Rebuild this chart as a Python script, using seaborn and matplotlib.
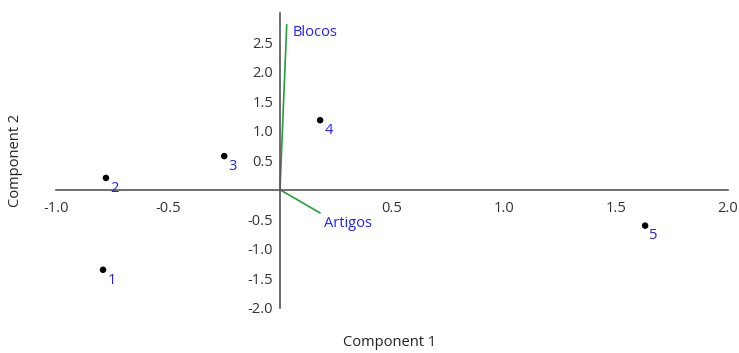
import matplotlib
matplotlib.use("Agg")
import matplotlib.pyplot as plt
import seaborn as sns
import pandas as pd

# data
obs_labels = ["1", "2", "3", "4", "5"]
comp1 = [-0.79, -0.777, -0.249, 0.179, 1.63]
comp2 = [-1.36, 0.20, 0.57, 1.18, -0.61]
var_names = ["Blocos", "Artigos"]
load1 = [0.03, 0.179]
load2 = [2.80, -0.395]
xticks = [-1.0, -0.5, 0.5, 1.0, 1.5, 2.0]
yticks = [-2.0, -1.5, -1.0, -0.5, 0.5, 1.0, 1.5, 2.0, 2.5]

sns.set_style("white")
plt.rcParams['font.family'] = ['Open Sans', 'DejaVu Sans']

fig = plt.figure(figsize=(7.39, 3.53), dpi=100)
ax = fig.add_axes([56/739, 1-307.5/353, 672/739, (307.5-13)/353])

df = pd.DataFrame({"c1": comp1, "c2": comp2, "lab": obs_labels})
sns.scatterplot(data=df, x="c1", y="c2", ax=ax, color="black", s=22,
                edgecolor="none", zorder=3)
for x, y, t in zip(comp1, comp2, obs_labels):
    ax.annotate(t, (x, y), xytext=(3, -2), textcoords="offset points",
                ha="left", va="top", color="#2020ff", fontsize=10.5)

for name, lx, ly in zip(var_names, load1, load2):
    sns.lineplot(x=[0, lx], y=[0, ly], ax=ax, color="#22a03c", lw=1.2,
                 sort=False, estimator=None)
blocos_off = (4, 0)
artigos_off = (3, -2)
ax.annotate(var_names[0], (load1[0], load2[0]), xytext=blocos_off,
            textcoords="offset points", ha="left", va="top",
            color="#2020ff", fontsize=10.5)
ax.annotate(var_names[1], (load1[1], load2[1]), xytext=artigos_off,
            textcoords="offset points", ha="left", va="top",
            color="#2020ff", fontsize=10.5)

ax.set_xlim(-1.0, 2.0)
ax.set_ylim(-2.0, 3.0)
ax.spines['left'].set_position(('data', 0))
ax.spines['bottom'].set_position(('data', 0))
ax.spines['right'].set_visible(False)
ax.spines['top'].set_visible(False)
ax.spines['bottom'].set_bounds(-1.0, 2.0)
ax.spines['left'].set_bounds(-2.0, 3.0)
for sp in ('left', 'bottom'):
    ax.spines[sp].set_color('#555555')
    ax.spines[sp].set_linewidth(1.2)
ax.set_xticks(xticks)
ax.set_yticks(yticks)
ax.set_xticklabels([f"{v:.1f}" for v in xticks])
ax.set_yticklabels([f"{v:.1f}" for v in yticks])
ax.tick_params(axis='x', direction='out', length=4, color='#555555',
               labelcolor='#333333', labelsize=10.5, pad=4)
ax.tick_params(axis='y', direction='out', length=4, color='#555555',
               labelcolor='#333333', labelsize=10.5, pad=1)
ax.set_xlabel("")
ax.set_ylabel("")
ax.grid(False)
ax.patch.set_alpha(0)

fig.text(390/739, 1-343/353, "Component 1", ha="center", va="center",
         fontsize=10.5, color="#222222")
fig.text(16/739, 1-160/353, "Component 2", ha="center", va="center",
         rotation=90, fontsize=10.5, color="#222222")

fig.savefig("out.png", dpi=100)
